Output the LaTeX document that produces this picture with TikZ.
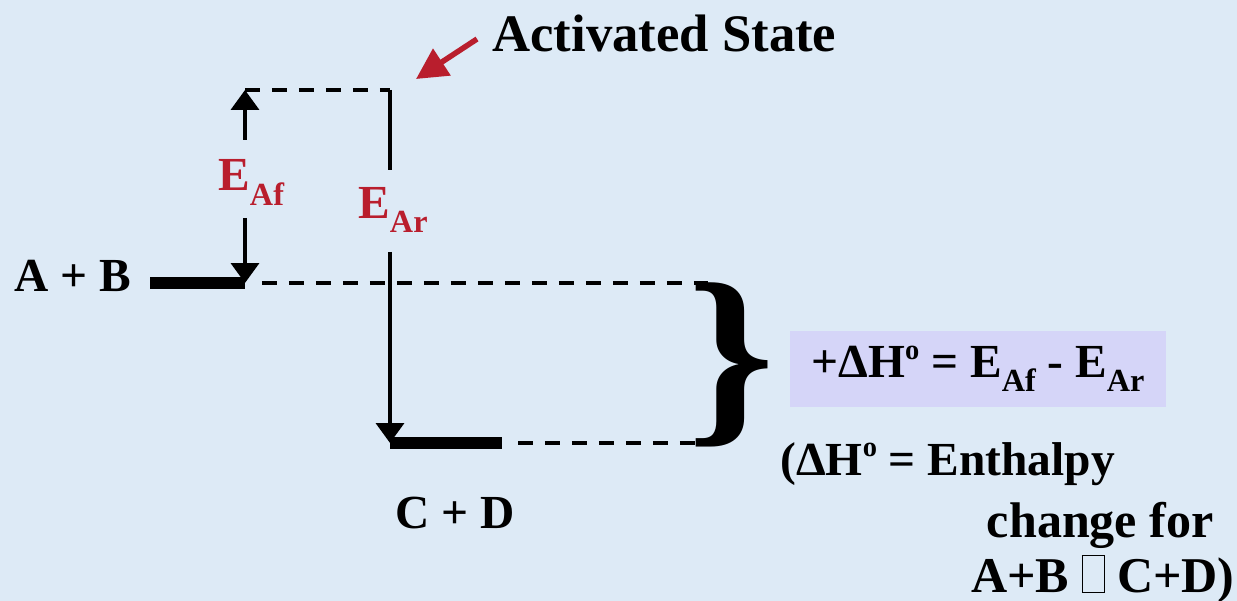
\documentclass[tikz,border=0pt]{standalone}
\usepackage{fontspec}
\setmainfont{Liberation Serif}
\usetikzlibrary{arrows.meta}
\definecolor{bgblue}{RGB}{221,234,246}
\definecolor{markred}{RGB}{185,30,45}
\definecolor{boxviolet}{RGB}{213,213,248}
% E with a lowered index, small o above
\newcommand{\Esub}[1]{E\raisebox{-0.3em}{\scalebox{0.68}{#1}}}
\newcommand{\supo}{\raisebox{0.38em}{\scalebox{0.6}{o}}}
\newcommand{\missbox}{{\setlength{\fboxsep}{0pt}\setlength{\fboxrule}{0.5pt}\fbox{\rule{0pt}{0.72em}\hspace{0.42em}}}}
\begin{document}
\begin{tikzpicture}[x=0.02cm, y=-0.02cm, line join=miter, >={Triangle[width=0.56cm,length=0.4cm]},
	bigtext/.style={inner sep=0pt, font=\fontsize{27}{30}\selectfont\bfseries},
	notetext/.style={inner sep=0pt, font=\fontsize{28.5}{32}\selectfont\bfseries},
	elabel/.style={inner sep=0pt, text=markred, font=\fontsize{27}{30}\selectfont\bfseries},
	level/.style={line width=0.24cm},
	guide/.style={line width=0.066cm, dash pattern=on 0.3cm off 0.24cm},
	gap/.style={line width=0.075cm}]

	% nền xanh nhạt
	\fill[bgblue] (0,0) rectangle (1237,601);
	\useasboundingbox (0,0) rectangle (1237,601);

	% các mức năng lượng
	\coordinate (AB1) at (150,283);
	\coordinate (AB2) at (245,283);
	\coordinate (CD1) at (390,443);
	\coordinate (CD2) at (502,443);
	\coordinate (TS1) at (245,90);
	\coordinate (TS2) at (390,90);
	\coordinate (ABend) at (708,283);
	\coordinate (CDend) at (700,443);
	% đầu mút các mũi tên
	\coordinate (AfUp) at (245,140);
	\coordinate (AfDown) at (245,218);
	\coordinate (ArTop) at (390,170);
	\coordinate (ArBot) at (390,252);
	\coordinate (RedTail) at (477,39);
	\coordinate (RedTip) at (416,79);

	% vạch dày cho chất đầu và chất cuối
	\foreach \a/\b in {AB1/AB2, CD1/CD2} {
		\draw[level] (\a) -- (\b);
	}
	% đường nét đứt
	\draw[guide] (TS1) -- (TS2);
	\draw[guide, shorten <=0.34cm] (AB2) -- (ABend);
	\draw[guide, shorten <=0.32cm] (CD2) -- (CDend);

	% năng lượng hoạt hoá
	\draw[gap, ->] (AfUp) -- (TS1);
	\draw[gap, ->] (AfDown) -- (AB2);
	\draw[gap] (TS2) -- (ArTop);
	\draw[gap, ->] (ArBot) -- (CD1);
	\node[elabel, anchor=base west] (EAf) at (218,191) {\Esub{Af}};
	\node[elabel, anchor=base west] (EAr) at (358,218) {\Esub{Ar}};

	% trạng thái hoạt hoá
	\node[inner sep=0pt, font=\fontsize{30}{34}\selectfont\bfseries, anchor=base west] (act) at (492,52) {Activated State};
	\draw[markred, line width=0.11cm, -{Triangle[width=0.62cm,length=0.62cm]}] (RedTail) -- (RedTip);

	% nhãn các chất
	\node[bigtext, anchor=base west] (AB) at (14,291) {A + B};
	\node[bigtext, anchor=base west] (CD) at (395,528) {C + D};

	% ngoặc nhọn và hộp công thức
	\node[inner sep=0pt, font=\fontsize{113}{113}\selectfont\bfseries] (brace) at (731,365) {\scalebox{1.12}[1]{\}}};
	\node[fill=boxviolet, minimum width=7.52cm, minimum height=1.52cm, font=\fontsize{27}{30}\selectfont\bfseries] (dH) at (978,369)
		{+ΔH\supo{} = \Esub{Af} - \Esub{Ar}};

	% chú thích
	\node[bigtext, anchor=base west] (note1) at (780,475) {(ΔH\supo{} = Enthalpy};
	\node[notetext, anchor=base east] (note2) at (1214,537) {change for};
	\node[notetext, anchor=base east] (note3) at (1235,592) {A+B \missbox{} C+D)};

\end{tikzpicture}
\end{document}
